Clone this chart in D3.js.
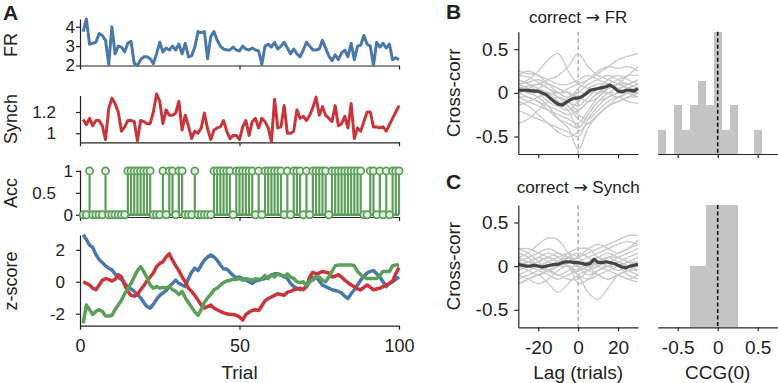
<!DOCTYPE html>
<html>
<head>
<meta charset="utf-8">
<script src="https://cdn.jsdelivr.net/npm/d3@7"></script>
<style>
  body { margin: 0; background: #fff; }
  svg text { font-family: "Liberation Sans", Arial, Helvetica, sans-serif; fill: #222; }
</style>
</head>
<body>
<svg id="chart" width="778" height="383"></svg>
<script>
// ---- Panel A: trial-by-trial series ----
const trials = d3.range(1, 101);

const fr = [3.75,4.4,3.1,3.15,3.2,3.65,3.55,3.3,2.05,4.0, 2.6,3.0,2.95,2.7,3.15,3.25,2.1,2.0,2.3,2.45,
  2.45,2.35,2.1,2.6,3.2,2.7,2.9,2.8,3.0,2.8, 3.1,2.6,3.15,2.45,2.5,2.95,3.75,3.7,3.75,2.35,
  3.5,3.75,3.3,3.0,2.85,2.8,2.8,2.95,2.8,2.75, 3.0,2.85,2.8,2.9,2.8,2.75,2.05,3.0,3.1,2.95,
  3.2,2.85,3.0,3.2,2.9,2.6,2.85,2.6,2.45,2.8, 3.2,3.0,2.8,2.8,2.85,3.3,2.9,2.5,2.25,2.55,
  2.3,2.65,2.8,2.45,3.15,2.3,3.0,3.05,3.55,3.1, 3.0,2.0,3.2,2.95,3.15,2.9,3.1,2.3,2.4,2.3];

const synch = [1.13,1.08,1.14,1.07,1.12,1.12,1.07,0.94,1.23,1.33, 1.28,1.2,1.02,1.06,1.12,1.12,1.11,0.93,1.12,1.11,
  1.09,1.09,1.2,1.37,1.3,1.09,1.22,1.17,1.17,1.19, 1.3,1.03,1.17,1.07,0.95,1.02,1.0,1.05,1.19,1.04,
  0.94,1.03,1.05,1.06,1.12,1.02,0.95,0.98,0.98,0.94, 1.06,1.12,0.98,1.11,1.14,1.05,1.14,1.11,1.05,0.92,
  1.32,1.05,1.06,1.26,1.0,1.0,1.02,1.22,1.14,1.16, 1.12,1.17,1.24,1.34,1.17,1.25,1.17,1.14,1.11,1.26,
  1.07,1.09,1.16,1.05,1.28,0.95,1.05,1.02,1.11,1.2, 1.2,1.06,1.06,1.05,1.06,1.02,1.08,1.14,1.2,1.26];

const acc = [0,0,1,0,0,0,0,1,0,0, 0,0,0,0,1,1,1,1,1,1, 1,1,0,0,0,1,0,1,1,0, 1,1,0,0,0,1,0,0,0,0,
  0,1,1,1,1,1,1,0,1,1, 1,1,1,1,0,1,0,1,1,1, 1,1,1,0,1,0,1,1,1,0, 1,0,1,1,1,1,1,0,1,1,
  1,1,1,1,1,1,1,1,0,0, 1,1,0,1,0,1,0,1,1,1];

const zFR = [2.95,2.65,2.3,2.15,1.7,1.4,1.2,1.0,0.85,0.75, 0.5,0.25,0.15,-0.1,-0.3,-0.45,-0.6,-0.8,-1.0,-1.3,
  -1.55,-1.65,-1.4,-1.1,-0.85,-0.7,-0.55,-0.3,-0.1,0.1, -0.1,-0.2,-0.3,0.2,0.6,0.85,0.7,1.05,1.35,1.55,
  1.68,1.55,1.35,1.05,0.8,0.8,0.6,0.4,0.25,0.3, 0.2,0.1,0.0,-0.1,0.05,0.1,0.15,0.2,0.3,0.4,
  0.5,0.5,0.4,0.35,0.2,-0.1,-0.3,-0.4,-0.5,-0.45, -0.3,0.0,0.25,0.3,0.05,-0.2,-0.3,-0.4,-0.5,-0.55,
  -0.6,-0.7,-0.9,-1.05,-0.75,-0.5,-0.2,0.1,0.35,0.55, 0.65,0.7,0.5,0.3,0.0,-0.3,-0.1,0.0,0.15,0.3];

const zSynch = [0.0,-0.1,-0.2,-0.4,-0.5,-0.2,0.1,0.2,0.15,0.05, 0.15,0.45,0.3,-0.2,-0.6,-0.85,-0.9,-0.8,-0.5,-0.25,
  0.05,0.3,0.55,0.95,1.15,1.25,1.55,1.75,1.35,1.0, 0.7,0.3,0.0,-0.4,-0.6,-0.85,-1.15,-1.45,-1.65,-1.55,
  -1.45,-1.65,-1.75,-1.85,-1.95,-2.0,-2.05,-2.05,-2.1,-2.2, -2.4,-2.05,-1.9,-1.8,-1.75,-1.8,-1.5,-1.2,-1.05,-0.95,
  -0.85,-0.75,-0.8,-0.85,-0.65,-0.6,-0.5,-0.45,-0.4,-0.5, -0.3,0.3,0.6,0.5,0.55,0.65,0.6,0.55,0.3,0.35,
  0.45,0.3,0.1,-0.05,-0.2,-0.3,-0.45,-0.5,-0.35,-0.2, -0.35,-0.5,-0.45,-0.4,-0.3,-0.2,-0.1,0.05,0.5,0.9];

const zAcc = [-2.6,-1.45,-1.75,-2.05,-1.85,-1.75,-1.85,-2.15,-2.15,-2.1, -1.75,-1.45,-1.15,-0.75,-0.45,-0.1,0.3,0.7,0.95,0.65,
  0.25,-0.2,-0.4,-0.3,-0.4,-0.35,-0.4,-0.3,-0.5,-0.6, -0.8,-0.6,-1.0,-1.3,-1.6,-1.9,-2.1,-1.75,-1.3,-1.0,
  -0.8,-0.5,-0.4,-0.2,-0.05,0.05,0.1,0.15,0.15,0.2, 0.1,0.2,0.15,0.1,0.2,0.15,0.2,0.4,0.2,0.45,
  0.3,0.5,0.45,0.3,0.5,0.3,0.2,0.0,-0.05,0.0, -0.25,0.05,0.1,0.3,0.3,0.1,0.0,0.3,0.65,1.0,
  1.05,1.05,1.05,1.05,1.05,1.0,0.65,0.45,0.3,0.2, 0.2,0.2,0.2,0.4,0.65,0.65,0.65,1.0,1.05,1.05];

// ---- Panels B / C: cross-correlations ----
const lags = d3.range(-30, 31, 5);
const meanLags = d3.range(-30, 31, 2);

const ccFR = [
  [0.10,0.15,0.25,0.38,0.45,0.25,0.10,0.05,0.00,0.05,0.10,0.05,0.00],
  [0.05,0.08,0.10,0.15,0.20,0.30,0.45,0.30,0.20,0.15,0.10,0.05,0.05],
  [0.20,0.18,0.12,0.05,0.00,0.05,0.10,0.15,0.22,0.30,0.38,0.42,0.45],
  [0.25,0.22,0.20,0.10,0.00,-0.05,0.05,0.15,0.25,0.30,0.28,0.30,0.25],
  [0.05,0.00,-0.05,-0.15,-0.30,-0.40,-0.65,-0.40,-0.25,-0.15,-0.10,-0.05,0.00],
  [-0.10,-0.15,-0.25,-0.35,-0.45,-0.50,-0.45,-0.35,-0.25,-0.15,-0.10,-0.05,-0.05],
  [0.00,-0.05,-0.10,-0.20,-0.30,-0.35,-0.40,-0.25,-0.10,-0.05,0.00,0.05,0.10],
  [-0.35,-0.30,-0.20,-0.10,-0.05,-0.10,-0.20,-0.10,0.00,0.05,0.10,0.10,0.05],
  [0.15,0.10,0.00,-0.10,-0.15,-0.05,0.00,0.10,0.15,0.20,0.15,0.10,0.15],
  [0.10,0.12,0.15,0.10,0.05,0.00,-0.05,-0.10,-0.05,0.05,0.10,0.20,0.30],
  [0.05,0.05,0.00,-0.05,-0.10,-0.15,-0.25,-0.30,-0.20,-0.10,-0.05,-0.10,-0.12],
  [-0.05,-0.10,-0.15,-0.20,-0.25,-0.30,-0.35,-0.20,-0.05,0.05,0.10,0.05,0.00],
  [0.20,0.25,0.20,0.15,0.10,0.10,0.15,0.20,0.15,0.10,0.05,0.10,0.15],
  [0.00,0.05,0.10,0.05,-0.05,-0.15,-0.30,-0.35,-0.25,-0.15,-0.05,0.00,0.05],
  [-0.20,-0.25,-0.30,-0.35,-0.40,-0.45,-0.50,-0.30,-0.15,-0.05,0.00,0.05,0.10],
  [0.05,0.00,0.05,0.10,0.05,0.00,-0.10,0.05,0.10,0.10,0.05,0.00,-0.05],
  [-0.15,-0.10,-0.05,0.00,-0.05,-0.10,-0.15,-0.05,0.05,0.15,0.20,0.15,0.10],
  [0.10,0.05,0.00,-0.05,-0.15,-0.20,-0.10,0.00,0.05,0.00,-0.05,0.00,0.05],
  [-0.05,-0.05,-0.10,-0.15,-0.20,-0.25,-0.20,-0.10,0.00,0.10,0.15,0.20,0.20],
  [0.15,0.10,0.05,0.00,-0.10,-0.20,-0.40,-0.25,-0.10,0.00,0.05,0.00,-0.05]
];
const ccFRMean = [0.03,0.03,0.03,0.025,0.02,0.02,0.0,-0.02,-0.06,-0.1,-0.13,-0.14,-0.11,-0.08,-0.06,-0.06,
  -0.04,-0.01,0.03,0.04,0.05,0.06,0.07,0.09,0.06,0.02,0.01,0.03,0.03,0.02,0.05];

const ccSynch = [
  [0.10,0.15,0.25,0.32,0.30,0.15,0.05,0.00,0.05,0.10,0.10,0.05,0.00],
  [-0.05,0.00,0.05,0.10,0.05,0.00,-0.10,-0.30,-0.38,-0.25,-0.10,-0.05,-0.05],
  [0.00,0.05,0.10,0.05,0.00,0.05,0.10,0.15,0.20,0.25,0.30,0.35,0.35],
  [0.20,0.15,0.05,-0.05,-0.10,-0.05,0.05,0.10,0.15,0.20,0.25,0.28,0.25],
  [-0.20,-0.15,-0.10,-0.20,-0.30,-0.20,-0.10,-0.05,0.00,0.05,0.00,-0.05,-0.10],
  [0.05,0.10,0.15,0.20,0.15,0.10,0.00,-0.10,-0.05,0.00,0.05,0.10,0.15],
  [-0.10,-0.15,-0.20,-0.15,-0.05,0.00,-0.20,-0.15,-0.05,0.00,0.05,0.00,-0.05],
  [0.15,0.10,0.00,-0.05,0.00,0.10,0.15,0.10,0.00,-0.05,-0.10,-0.15,-0.18],
  [0.00,-0.05,-0.10,-0.05,0.05,0.15,0.20,0.20,0.10,0.05,0.10,0.15,0.20],
  [-0.15,-0.10,-0.05,0.00,0.05,0.05,0.00,-0.05,-0.10,-0.15,-0.10,-0.05,0.00],
  [0.10,0.05,0.00,0.00,0.05,0.10,0.05,0.00,0.05,0.10,0.15,0.20,0.25],
  [-0.05,0.00,0.05,0.10,0.15,0.10,0.05,0.05,0.10,0.05,0.00,-0.10,-0.15],
  [0.05,0.00,-0.05,-0.10,-0.15,-0.10,-0.05,0.05,0.10,0.15,0.10,0.05,0.05],
  [0.20,0.20,0.15,0.10,0.05,0.00,-0.05,0.00,0.05,0.00,-0.05,0.00,0.05],
  [-0.20,-0.15,-0.10,-0.05,-0.10,-0.15,-0.15,-0.05,0.05,0.10,0.05,0.00,-0.05],
  [0.00,0.05,0.00,-0.05,0.00,0.05,0.10,0.20,0.25,0.20,0.15,0.20,0.30],
  [0.10,0.05,0.10,0.15,0.10,0.00,-0.10,-0.15,-0.10,-0.05,0.00,0.05,0.10],
  [-0.10,-0.05,0.00,0.05,0.10,0.15,0.10,0.00,-0.10,-0.15,-0.10,-0.15,-0.10]
];
const ccSynchMean = [0.02,0.01,0.0,0.0,0.01,0.0,-0.01,0.0,0.01,0.02,0.02,0.04,0.05,0.05,0.04,0.04,
  0.03,0.02,0.03,0.08,0.04,0.04,0.05,0.04,0.03,0.01,-0.01,-0.02,0.0,0.01,0.02];

// CCG(0) histograms: bin centres (width 0.1) and counts
const binWidth = 0.1;
const histFRBins   = [-0.7,-0.5,-0.4,-0.3,-0.2,-0.1,0,0.1,0.2,0.5];
const histFRCounts = [1,2,1,2,3,2,5,1,2,1];
const histSynchBins   = [-0.3,-0.2,-0.1,0,0.1,0.2];
const histSynchCounts = [2,2,4,4,4,4];

// ---- drawing ----
const blue = "#4a79a9", red = "#c8363c", green = "#5b9f58";
const greyLine = "#c8c8c8", meanCol = "#444", barCol = "#c4c4c4", ink = "#222";

const svg = d3.select("#chart");

function styleAxis(g, size) {
  g.attr("color", ink).attr("font-family", null);
  g.selectAll("text").style("font-size", size + "px");
  g.selectAll("path, line").attr("stroke-width", 1.2);
}

const xTrial = d3.scaleLinear().domain([0, 100]).range([80, 399]);

const subA = [
  { name: "FR",      top: 19,   bottom: 65.5,  domain: [2, 4.4],       ticks: [2, 3, 4],   pad: 1,  labelY: 45 },
  { name: "Synch",   top: 95.5, bottom: 142.3, domain: [0.915, 1.355], ticks: [1, 1.2],    pad: 20, labelY: 119 },
  { name: "Acc",     top: 170,  bottom: 217,   domain: [-0.05, 1.02],  ticks: [0, 0.5, 1], pad: 3,  labelY: 193 },
  { name: "z-score", top: 235,  bottom: 325.7, domain: [-2.75, 2.93],  ticks: [-2, 0, 2],  pad: 11, labelY: 281 }
];
subA.forEach(s => { s.y = d3.scaleLinear().domain(s.domain).range([s.bottom, s.top]); });

subA.forEach((s, i) => {
  const last = i === subA.length - 1;
  const gx = svg.append("g").attr("transform", `translate(0,${s.bottom})`)
    .call(d3.axisBottom(xTrial).tickValues([0, 50, 100]).tickSize(4).tickSizeOuter(0)
      .tickPadding(10).tickFormat(last ? d => String(d) : () => ""));
  styleAxis(gx, 18);
  const gy = svg.append("g").attr("transform", `translate(${xTrial(0)},0)`)
    .call(d3.axisLeft(s.y).tickValues(s.ticks).tickSize(4).tickSizeOuter(0)
      .tickPadding(s.pad).tickFormat(d => String(d)));
  styleAxis(gy, 17);
  // Acc tick "0.5" sits further left in the reference
  if (s.name === "Acc") gy.selectAll(".tick text").filter(d => d === 0.5).attr("x", -24);
  svg.append("text")
    .attr("transform", `translate(16.5,${s.labelY}) rotate(-90)`)
    .attr("text-anchor", "middle").style("font-size", "18px").text(s.name);
});

const lineA = (s, vals) => d3.line().x((d, i) => xTrial(trials[i])).y(d => s.y(d))(vals);

svg.append("path").attr("d", lineA(subA[0], fr)).attr("fill", "none")
  .attr("stroke", blue).attr("stroke-width", 3).attr("stroke-linejoin", "round");
svg.append("path").attr("d", lineA(subA[1], synch)).attr("fill", "none")
  .attr("stroke", red).attr("stroke-width", 3).attr("stroke-linejoin", "round");

// Acc stem plot
const yAcc = subA[2].y;
const accPts = acc.map((v, i) => ({ t: trials[i], v }));
svg.append("line").attr("x1", xTrial(0)).attr("x2", xTrial(100))
  .attr("y1", yAcc(0)).attr("y2", yAcc(0)).attr("stroke", green).attr("stroke-width", 2.5);
svg.append("g").selectAll("line").data(accPts.filter(d => d.v > 0)).join("line")
  .attr("x1", d => xTrial(d.t)).attr("x2", d => xTrial(d.t))
  .attr("y1", yAcc(0)).attr("y2", d => yAcc(d.v))
  .attr("stroke", green).attr("stroke-width", 2.2);
svg.append("g").selectAll("circle").data(accPts).join("circle")
  .attr("cx", d => xTrial(d.t)).attr("cy", d => yAcc(d.v)).attr("r", 3.6)
  .attr("fill", "#e4efe3").attr("stroke", green).attr("stroke-width", 1.7);

// z-scores
[[zFR, blue], [zSynch, red], [zAcc, green]].forEach(([vals, col]) => {
  svg.append("path").attr("d", lineA(subA[3], vals)).attr("fill", "none")
    .attr("stroke", col).attr("stroke-width", 3.5).attr("stroke-linejoin", "round");
});

svg.append("text").attr("x", xTrial(50)).attr("y", 379).attr("text-anchor", "middle")
  .style("font-size", "19px").text("Trial");

// ---- B / C ----
const xLag = d3.scaleLinear().domain([-30, 30]).range([518.3, 638]);
const xHist = d3.scaleLinear().domain([-0.75, 0.75]).range([657.7, 777.7]);

const rows = [
  { letter: "B", target: "FR",    top: 31.7, bottom: 154,   curves: ccFR,    mean: ccFRMean,
    bins: histFRBins, counts: histFRCounts, letterY: 18.5, titleY: 23, labels: false },
  { letter: "C", target: "Synch", top: 205,  bottom: 327.3, curves: ccSynch, mean: ccSynchMean,
    bins: histSynchBins, counts: histSynchCounts, letterY: 189, titleY: 193, labels: true }
];

rows.forEach(r => {
  const y = d3.scaleLinear().domain([-0.7, 0.7]).range([r.bottom, r.top]);
  const yH = d3.scaleLinear().domain([0, d3.max(r.counts)]).range([r.bottom, r.top]);

  // reference lines
  svg.append("line").attr("x1", xLag(0)).attr("x2", xLag(0)).attr("y1", r.top).attr("y2", r.bottom)
    .attr("stroke", "#999").attr("stroke-width", 1.2).attr("stroke-dasharray", "4,3");
  svg.append("line").attr("x1", xLag(-30)).attr("x2", xLag(30)).attr("y1", y(0)).attr("y2", y(0))
    .attr("stroke", "#aaa").attr("stroke-width", 1).attr("stroke-dasharray", "4,3");

  const line = d3.line().x((d, i) => xLag(lags[i])).y(d => y(d)).curve(d3.curveCatmullRom.alpha(0.5));
  svg.append("g").selectAll("path").data(r.curves).join("path")
    .attr("d", line).attr("fill", "none").attr("stroke", greyLine).attr("stroke-width", 1.3);
  svg.append("path")
    .attr("d", d3.line().x((d, i) => xLag(meanLags[i])).y(d => y(d))(r.mean))
    .attr("fill", "none").attr("stroke", meanCol).attr("stroke-width", 3.2).attr("stroke-linejoin", "round");

  const gx = svg.append("g").attr("transform", `translate(0,${r.bottom})`)
    .call(d3.axisBottom(xLag).tickValues([-20, 0, 20]).tickSize(4).tickSizeOuter(0)
      .tickPadding(9).tickFormat(r.labels ? d => String(d) : () => ""));
  styleAxis(gx, 19);
  const gy = svg.append("g").attr("transform", `translate(${xLag(-30)},0)`)
    .call(d3.axisLeft(y).tickValues([-0.5, 0, 0.5]).tickSize(4).tickSizeOuter(0)
      .tickPadding(6).tickFormat(d => String(d)));
  styleAxis(gy, 19);

  // histogram
  svg.append("g").selectAll("rect").data(r.bins.map((b, i) => ({ b, c: r.counts[i] }))).join("rect")
    .attr("x", d => xHist(d.b - binWidth / 2))
    .attr("width", d => xHist(d.b + binWidth / 2) - xHist(d.b - binWidth / 2))
    .attr("y", d => yH(d.c)).attr("height", d => r.bottom - yH(d.c))
    .attr("fill", barCol).attr("shape-rendering", "crispEdges");
  svg.append("line").attr("x1", xHist(0)).attr("x2", xHist(0)).attr("y1", r.top).attr("y2", r.bottom)
    .attr("stroke", "#111").attr("stroke-width", 1.6).attr("stroke-dasharray", "4,2.5");
  const gh = svg.append("g").attr("transform", `translate(0,${r.bottom})`)
    .call(d3.axisBottom(xHist).tickValues([-0.5, 0, 0.5]).tickSize(4).tickSizeOuter(0)
      .tickPadding(9).tickFormat(r.labels ? d => String(d) : () => ""));
  styleAxis(gh, 19);

  svg.append("text").attr("transform", `translate(460,${(r.top + r.bottom) / 2}) rotate(-90)`)
    .attr("text-anchor", "middle").style("font-size", "19px").text("Cross-corr");
  const title = svg.append("text").attr("x", xLag(0)).attr("y", r.titleY).attr("text-anchor", "middle")
    .style("font-size", "17px");
  title.append("tspan").text("correct ");
  title.append("tspan").style("font-family", "'DejaVu Sans'").text("\u2192");
  title.append("tspan").text(" " + r.target);
  svg.append("text").attr("x", 446).attr("y", r.letterY).style("font-size", "21px")
    .style("font-weight", "bold").text(r.letter);
});

svg.append("text").attr("x", 3).attr("y", 20).style("font-size", "21px")
  .style("font-weight", "bold").text("A");

svg.append("text").attr("x", xLag(0)).attr("y", 379).attr("text-anchor", "middle")
  .style("font-size", "19px").text("Lag (trials)");
svg.append("text").attr("x", xHist(0)).attr("y", 379).attr("text-anchor", "middle")
  .style("font-size", "19px").text("CCG(0)");
</script>
</body>
</html>
